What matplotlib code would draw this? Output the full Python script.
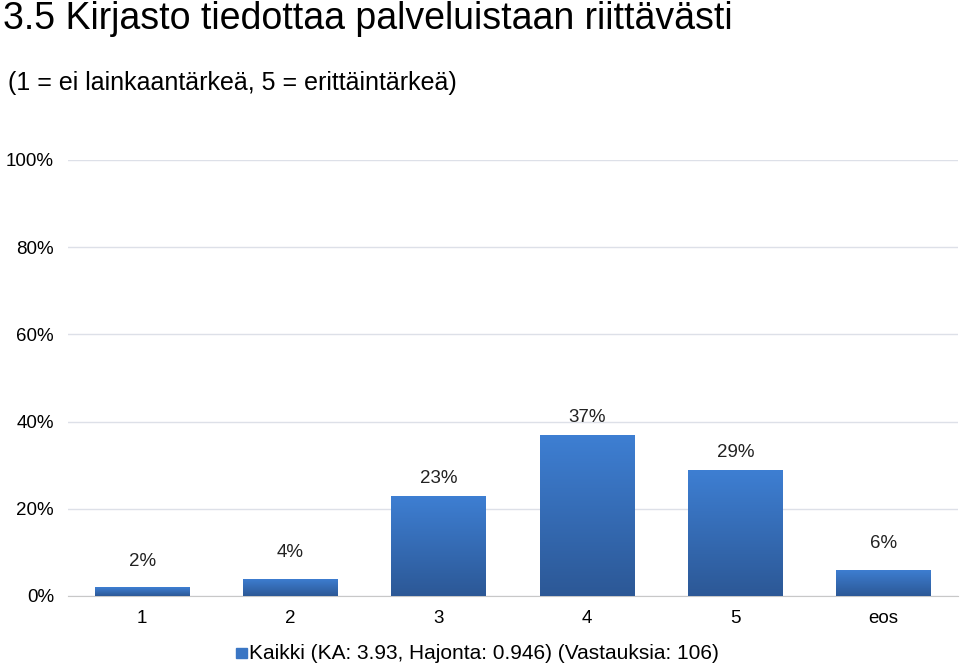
import matplotlib
matplotlib.use("Agg")
import matplotlib.pyplot as plt
import numpy as np
from matplotlib.colors import LinearSegmentedColormap

categories = ["1", "2", "3", "4", "5", "eos"]
values = [2, 4, 23, 37, 29, 6]
yticks = [0, 20, 40, 60, 80, 100]
legend_label = "Kaikki (KA: 3.93, Hajonta: 0.946) (Vastauksia: 106)"

plt.rcParams["font.family"] = "Liberation Sans"
fig = plt.figure(figsize=(9.6, 6.65), dpi=100)
ax = fig.add_axes([0.0708, 0.1038, 0.927, 0.6556])
x = np.arange(len(categories))
w = 0.64
bars = ax.bar(x, values, w, color="#3a76c4", zorder=2)
grad = np.linspace(0, 1, 256).reshape(-1, 1)
cmap = LinearSegmentedColormap.from_list("g", ["#2c5896", "#3e7fd3"])
for b in bars:
    x0, y0 = b.get_x(), b.get_y()
    im = ax.imshow(grad, cmap=cmap, aspect="auto", origin="lower",
                   extent=[x0, x0 + b.get_width(), y0, y0 + b.get_height()], zorder=3)
    im.set_clip_path(b)
for xi, v in zip(x, values):
    off = 2 if v > 10 else 4
    ax.text(xi, v + off, f"{v}%", ha="center", va="bottom",
            fontsize=13.5, color="#222222")
ax.set_xlim(-0.5, len(categories) - 0.5)
ax.set_ylim(0, 100)
ax.set_yticks(yticks)
ax.set_yticklabels([f"{t}%" for t in yticks], fontsize=13.5)
ax.set_xticks(x)
ax.set_xticklabels(categories, fontsize=13.5)
ax.grid(axis="y", color="#dde0e8", linewidth=1, zorder=0)
for s in ["top", "right", "left"]:
    ax.spines[s].set_visible(False)
ax.spines["bottom"].set_color("#c8c8c8")
ax.tick_params(length=0, pad=10)
fig.text(0.003, 0.972, "3.5 Kirjasto tiedottaa palveluistaan riittävästi", fontsize=27,
         va="center", ha="left")
fig.text(0.008, 0.875, "(1 = ei lainkaantärkeä, 5 = erittäintärkeä)", fontsize=18,
         va="center", ha="left")
fig.patches.append(plt.Rectangle((0.246, 0.010), 0.011, 0.016, color="#3a76c4",
                                 transform=fig.transFigure, figure=fig))
fig.text(0.259, 0.018, legend_label, fontsize=15, va="center", ha="left")
fig.savefig("out.png", dpi=100)
